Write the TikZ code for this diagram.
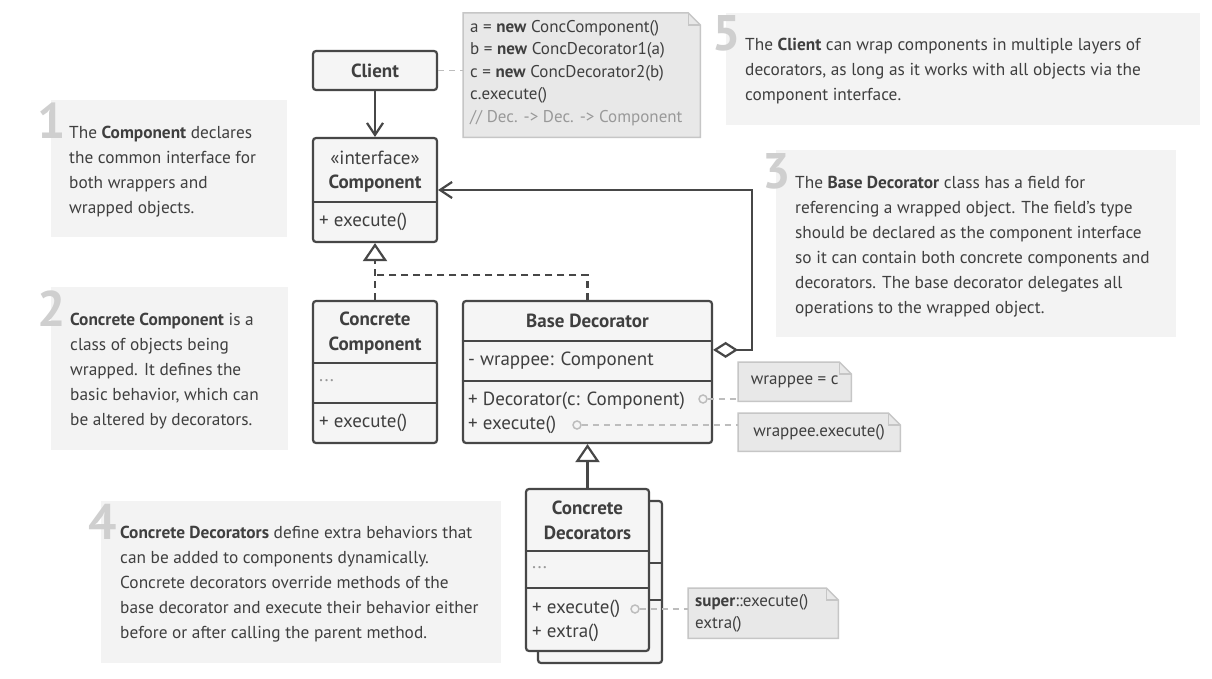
\documentclass[tikz,border=0pt]{standalone}
\usepackage{fontspec}
\setmainfont{PT Sans}
\usetikzlibrary{arrows.meta,calc}
\definecolor{ln}{HTML}{474747}
\definecolor{boxfill}{HTML}{F5F5F5}
\definecolor{notefill}{HTML}{F3F3F3}
\definecolor{codefill}{HTML}{E8E8E8}
\definecolor{codeline}{HTML}{C6C6C6}
\definecolor{numc}{HTML}{CFCFCF}
\definecolor{txt}{HTML}{3F3F3F}
\definecolor{greytxt}{HTML}{999999}
\definecolor{dashc}{HTML}{BDBDBD}
\tikzset{
  cls/.style={draw=ln, line width=2.2pt, fill=boxfill, rounded corners=3pt, inner sep=0pt},
  divider/.style={draw=ln, line width=2.2pt},
  notebox/.style={fill=notefill, inner sep=0pt, anchor=north west},
  body/.style={font=\fontsize{17.3}{25}\selectfont, text=txt, align=left, inner sep=0pt, anchor=north west},
  numeral/.style={font=\fontsize{50}{50}\selectfont\bfseries, text=numc, inner sep=0pt, anchor=base east},
  ctext/.style={font=\fontsize{19}{25}\selectfont, text=txt, inner sep=0pt, anchor=west},
  ctitle/.style={font=\fontsize{19}{25}\selectfont\bfseries, text=txt, inner sep=0pt, align=center},
  code/.style={font=\fontsize{17}{22.5}\selectfont, text=txt, align=left, inner sep=0pt},
  codenote/.style={fill=codefill, draw=codeline, line width=1.5pt},
  notespot/.style={inner sep=0pt, anchor=north west},
  assoc/.style={draw=ln, line width=2.2pt},
  realize/.style={draw=ln, line width=2.2pt, dash pattern=on 7pt off 5pt},
  notelink/.style={draw=dashc, line width=1.8pt, dash pattern=on 6pt off 5pt},
  pin/.style={circle, draw=dashc, line width=1.5pt, fill=boxfill, minimum size=8pt, inner sep=0pt},
  gen/.style={-{Triangle[length=18pt,width=24pt,fill=white]}},
  vhead/.style={-{Straight Barb[length=12pt,width=16pt]}},
}
\newcommand{\foldframe}[1]{%
  \draw[codenote] (#1.north west) -- ($(#1.north east)+(-12,0)$) -- ($(#1.north east)+(0,12)$) -- (#1.south east) -- (#1.south west) -- cycle;
  \draw[draw=codeline, line width=1.5pt] ($(#1.north east)+(-12,0)$) |- ($(#1.north east)+(0,12)$);}
\begin{document}
\begin{tikzpicture}[x=1pt,y=-1pt]
\useasboundingbox[fill=white] (0,0) rectangle (1212,679);

% ---------- explanatory notes ----------
\node[notebox, minimum width=236pt, minimum height=137pt] (n1) at (51,100) {};
\node[numeral] (k1) at (66,139) {1};
\node[body] (t1) at (69,126) {The \textbf{Component} declares\\the common interface for\\both wrappers and\\wrapped objects.};

\node[notebox, minimum width=237pt, minimum height=163pt] (n2) at (51,287) {};
\node[numeral] (k2) at (66,326) {2};
\node[body] (t2) at (70,313) {\textbf{Concrete Component} is a\\class of objects being\\wrapped. It defines the\\basic behavior, which can\\be altered by decorators.};

\node[notebox, minimum width=400pt, minimum height=187pt] (n3) at (776,150) {};
\node[numeral] (k3) at (791,189) {3};
\node[body] (t3) at (795,176) {The \textbf{Base Decorator} class has a field for\\referencing a wrapped object. The field’s type\\should be declared as the component interface\\so it can contain both concrete components and\\decorators. The base decorator delegates all\\operations to the wrapped object.};

\node[notebox, minimum width=400pt, minimum height=162pt] (n4) at (101,501) {};
\node[numeral] (k4) at (117,539) {4};
\node[body] (t4) at (120,526) {\textbf{Concrete Decorators} define extra behaviors that\\can be added to components dynamically.\\Concrete decorators override methods of the\\base decorator and execute their behavior either\\before or after calling the parent method.};

\node[notebox, minimum width=474pt, minimum height=112pt] (n5) at (726,13) {};
\node[numeral] (k5) at (741,51) {5};
\node[body] (t5) at (745,38) {The \textbf{Client} can wrap components in multiple layers of\\decorators, as long as it works with all objects via the\\component interface.};

% ---------- code notes ----------
\node[notespot, minimum width=237pt, minimum height=124pt] (cn) at (463,13) {};
\foldframe{cn}
\node[code, anchor=north west] (cnt) at (470,20) {a = \textbf{new} ConcComponent()\\b = \textbf{new} ConcDecorator1(a)\\c = \textbf{new} ConcDecorator2(b)\\c.execute()\\\textcolor{greytxt}{// Dec. -> Dec. -> Component}};

\node[notespot, minimum width=113pt, minimum height=39pt] (wn1) at (738,362) {};
\foldframe{wn1}
\node[code] (wn1t) at (wn1.center) {wrappee = c};

\node[notespot, minimum width=162pt, minimum height=38pt] (wn2) at (738,413) {};
\foldframe{wn2}
\node[code] (wn2t) at (wn2.center) {wrappee.execute()};

\node[notespot, minimum width=150pt, minimum height=50pt] (sn) at (688,588) {};
\foldframe{sn}
\node[code, anchor=north west] (snt) at (695,594) {\textbf{super}::execute()\\extra()};

% ---------- classes ----------
\node[cls, minimum width=124pt, minimum height=39pt] (client) at (375,70.5) {};
\node[ctitle] (clientt) at (client.center) {Client};

\node[cls, minimum width=124pt, minimum height=104pt] (comp) at (375,190) {};
\draw[divider] (comp.west |- 0,202) -- (comp.east |- 0,202);
\node[ctext, anchor=center] (compst) at (375,158) {«interface»};
\node[ctitle] (compt) at (375,184) {Component};
\node[ctext] (compm) at (319,222) {+ execute()};

\node[cls, minimum width=124pt, minimum height=142pt] (cc) at (375,372) {};
\draw[divider] (cc.west |- 0,363) -- (cc.east |- 0,363);
\draw[divider] (cc.west |- 0,403) -- (cc.east |- 0,403);
\node[ctitle] (cct) at (375,333.5) {Concrete\\Component};
\node[ctext, text=greytxt] (ccf) at (319,381) {...};
\node[ctext] (ccm) at (319,423) {+ execute()};

\node[cls, minimum width=249pt, minimum height=142pt] (bd) at (587.5,372) {};
\draw[divider] (bd.west |- 0,341) -- (bd.east |- 0,341);
\draw[divider] (bd.west |- 0,381) -- (bd.east |- 0,381);
\node[ctitle] (bdt) at (587.5,321) {Base Decorator};
\node[ctext] (bdf) at (468,361) {- wrappee: Component};
\node[ctext] (bdm1) at (468,401) {+ Decorator(c: Component)};
\node[ctext] (bdm2) at (468,425) {+ execute()};

\node[cls, minimum width=124pt, minimum height=162pt] (cdb) at (600,582) {};
\draw[divider] (cdb.west |- 0,563) -- (cdb.east |- 0,563);
\draw[divider] (cdb.west |- 0,600) -- (cdb.east |- 0,600);
\node[cls, minimum width=123pt, minimum height=162pt] (cd) at (587.5,570) {};
\draw[divider] (cd.west |- 0,551) -- (cd.east |- 0,551);
\draw[divider] (cd.west |- 0,588) -- (cd.east |- 0,588);
\node[ctitle] (cdt) at (587.5,520.5) {Concrete\\Decorators};
\node[ctext, text=greytxt] (cdf) at (532,568) {...};
\node[ctext] (cdm1) at (532,609) {+ execute()};
\node[ctext] (cdm2) at (532,633) {+ extra()};

% ---------- pins ----------
\node[pin] (p1) at (703,399) {};
\node[pin] (p2) at (577,425) {};
\node[pin] (p3) at (635,609) {};

% ---------- connectors ----------
\draw[notelink] (client.east) -- (cn.west |- client.east);
\draw[notelink] (p1.east) -- (wn1.west |- p1.east);
\draw[notelink] (p2.east) -- (wn2.west |- p2.east);
\draw[notelink] (p3.east) -- (sn.west |- p3.east);

\draw[assoc, vhead] (client) -- (comp);
\coordinate (j) at (375,275);
\draw[realize, gen] (cc.north) -- (comp.south);
\draw[realize] (bd.north) |- (j);
\draw[assoc, gen] (cd.north) -- (bd.south);
\draw[assoc, {Diamond[open,length=25pt,width=16pt]}-{Straight Barb[length=12pt,width=16pt]}]
  ($(bd.north east)+(0,50)$) -| ($(comp.east)+(314,0)$) -- (comp.east);
\end{tikzpicture}
\end{document}
